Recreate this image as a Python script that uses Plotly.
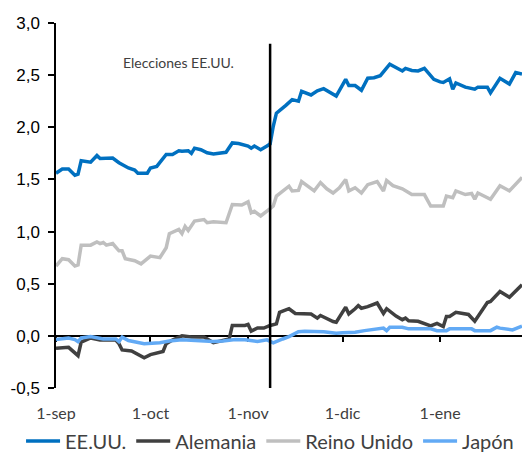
import plotly.graph_objects as go

# Rentabilidad de bonos soberanos a 10 años (%), sep-2016 a ene-2017
fechas_eeuu = [
    "2016-09-01", "2016-09-03", "2016-09-05", "2016-09-07", "2016-09-08", "2016-09-09",
    "2016-09-12", "2016-09-14", "2016-09-15", "2016-09-19", "2016-09-21", "2016-09-24",
    "2016-09-26", "2016-09-27", "2016-09-30", "2016-10-01", "2016-10-03", "2016-10-05",
    "2016-10-06", "2016-10-08", "2016-10-10", "2016-10-11", "2016-10-13", "2016-10-14",
    "2016-10-15", "2016-10-17", "2016-10-19", "2016-10-21", "2016-10-25", "2016-10-27",
    "2016-10-29", "2016-11-01", "2016-11-02", "2016-11-03", "2016-11-05", "2016-11-07",
    "2016-11-08", "2016-11-09", "2016-11-10", "2016-11-13", "2016-11-15", "2016-11-17",
    "2016-11-18", "2016-11-21", "2016-11-23", "2016-11-25", "2016-11-29", "2016-12-02",
    "2016-12-03", "2016-12-05", "2016-12-07", "2016-12-09", "2016-12-11", "2016-12-13",
    "2016-12-16", "2016-12-20", "2016-12-21", "2016-12-23", "2016-12-25", "2016-12-27",
    "2016-12-30", "2017-01-01", "2017-01-02", "2017-01-04", "2017-01-05", "2017-01-06",
    "2017-01-09", "2017-01-12", "2017-01-13", "2017-01-16", "2017-01-17", "2017-01-20",
    "2017-01-23", "2017-01-25", "2017-01-27",
]
eeuu = [
    1.56, 1.60, 1.60, 1.54, 1.55, 1.68,
    1.665, 1.73, 1.70, 1.705, 1.66, 1.61,
    1.59, 1.56, 1.56, 1.61, 1.625, 1.705,
    1.74, 1.74, 1.775, 1.77, 1.775, 1.75,
    1.80, 1.785, 1.755, 1.745, 1.76, 1.85,
    1.845, 1.82, 1.80, 1.82, 1.785, 1.82,
    1.84, 2.01, 2.135, 2.21, 2.265, 2.25,
    2.345, 2.31, 2.35, 2.37, 2.30, 2.46,
    2.40, 2.40, 2.355, 2.47, 2.475, 2.495,
    2.605, 2.54, 2.565, 2.545, 2.54, 2.565,
    2.46, 2.435, 2.43, 2.465, 2.365, 2.425,
    2.385, 2.365, 2.385, 2.385, 2.33, 2.47,
    2.415, 2.525, 2.51,
]

fechas_alemania = [
    "2016-09-01", "2016-09-05", "2016-09-08", "2016-09-09", "2016-09-12", "2016-09-15",
    "2016-09-20", "2016-09-21", "2016-09-22", "2016-09-25", "2016-09-29", "2016-10-01",
    "2016-10-05", "2016-10-06", "2016-10-08", "2016-10-11", "2016-10-14", "2016-10-18",
    "2016-10-21", "2016-10-24", "2016-10-26", "2016-10-27", "2016-10-31", "2016-11-01",
    "2016-11-02", "2016-11-04", "2016-11-06", "2016-11-08", "2016-11-10", "2016-11-11",
    "2016-11-14", "2016-11-16", "2016-11-18", "2016-11-21", "2016-11-23", "2016-11-24",
    "2016-11-28", "2016-11-29", "2016-12-02", "2016-12-03", "2016-12-05", "2016-12-06",
    "2016-12-07", "2016-12-09", "2016-12-12", "2016-12-14", "2016-12-15", "2016-12-18",
    "2016-12-20", "2016-12-21", "2016-12-22", "2016-12-25", "2016-12-29", "2016-12-31",
    "2017-01-02", "2017-01-03", "2017-01-04", "2017-01-06", "2017-01-10", "2017-01-12",
    "2017-01-16", "2017-01-17", "2017-01-20", "2017-01-23", "2017-01-27",
]
alemania = [
    -0.12, -0.11, -0.19, -0.06, -0.02, -0.04,
    -0.04, -0.075, -0.135, -0.145, -0.21, -0.18,
    -0.15, -0.075, -0.04, 0.00, -0.01, -0.01,
    -0.065, -0.045, -0.03, 0.10, 0.10, 0.11,
    0.045, 0.075, 0.075, 0.10, 0.115, 0.225,
    0.26, 0.215, 0.215, 0.21, 0.17, 0.195,
    0.137, 0.13, 0.275, 0.21, 0.26, 0.29,
    0.265, 0.28, 0.315, 0.215, 0.26, 0.19,
    0.155, 0.17, 0.145, 0.14, 0.095, 0.12,
    0.09, 0.185, 0.185, 0.225, 0.205, 0.14,
    0.32, 0.33, 0.425, 0.37, 0.49,
]

fechas_reino_unido = [
    "2016-09-01", "2016-09-03", "2016-09-05", "2016-09-07", "2016-09-08", "2016-09-09",
    "2016-09-12", "2016-09-14", "2016-09-15", "2016-09-16", "2016-09-17", "2016-09-19",
    "2016-09-21", "2016-09-22", "2016-09-23", "2016-09-26", "2016-09-28", "2016-10-01",
    "2016-10-04", "2016-10-06", "2016-10-07", "2016-10-10", "2016-10-11", "2016-10-12",
    "2016-10-13", "2016-10-15", "2016-10-18", "2016-10-19", "2016-10-21", "2016-10-25",
    "2016-10-27", "2016-10-30", "2016-11-01", "2016-11-02", "2016-11-03", "2016-11-05",
    "2016-11-08", "2016-11-09", "2016-11-10", "2016-11-14", "2016-11-15", "2016-11-17",
    "2016-11-18", "2016-11-20", "2016-11-22", "2016-11-24", "2016-11-26", "2016-11-28",
    "2016-11-30", "2016-12-02", "2016-12-03", "2016-12-05", "2016-12-07", "2016-12-09",
    "2016-12-12", "2016-12-14", "2016-12-15", "2016-12-17", "2016-12-20", "2016-12-23",
    "2016-12-27", "2016-12-29", "2017-01-02", "2017-01-03", "2017-01-05", "2017-01-06",
    "2017-01-09", "2017-01-11", "2017-01-12", "2017-01-13", "2017-01-17", "2017-01-20",
    "2017-01-23", "2017-01-27",
]
reino_unido = [
    0.67, 0.74, 0.73, 0.67, 0.68, 0.87,
    0.87, 0.90, 0.885, 0.895, 0.87, 0.885,
    0.815, 0.815, 0.74, 0.72, 0.69, 0.765,
    0.75, 0.845, 0.98, 1.02, 0.98, 1.05,
    1.01, 1.10, 1.115, 1.085, 1.095, 1.085,
    1.26, 1.255, 1.285, 1.18, 1.195, 1.15,
    1.22, 1.245, 1.34, 1.435, 1.39, 1.395,
    1.48, 1.44, 1.39, 1.47, 1.41, 1.37,
    1.42, 1.50, 1.39, 1.42, 1.37, 1.45,
    1.48, 1.39, 1.49, 1.44, 1.41, 1.355,
    1.355, 1.245, 1.245, 1.34, 1.325, 1.39,
    1.355, 1.365, 1.31, 1.37, 1.31, 1.44,
    1.39, 1.52,
]

fechas_japon = [
    "2016-09-01", "2016-09-05", "2016-09-07", "2016-09-08", "2016-09-09", "2016-09-12",
    "2016-09-16", "2016-09-20", "2016-09-21", "2016-09-22", "2016-09-24", "2016-09-29",
    "2016-10-04", "2016-10-07", "2016-10-11", "2016-10-15", "2016-10-19", "2016-10-21",
    "2016-10-24", "2016-10-28", "2016-10-31", "2016-11-04", "2016-11-07", "2016-11-09",
    "2016-11-12", "2016-11-14", "2016-11-17", "2016-11-19", "2016-11-25", "2016-11-29",
    "2016-12-01", "2016-12-05", "2016-12-08", "2016-12-11", "2016-12-14", "2016-12-15",
    "2016-12-16", "2016-12-20", "2016-12-22", "2016-12-29", "2016-12-31", "2017-01-03",
    "2017-01-04", "2017-01-11", "2017-01-12", "2017-01-17", "2017-01-19", "2017-01-20",
    "2017-01-23", "2017-01-24", "2017-01-27",
]
japon = [
    -0.035, -0.02, -0.035, -0.055, -0.02, -0.007,
    -0.03, -0.03, -0.055, -0.012, -0.045, -0.075,
    -0.067, -0.05, -0.038, -0.045, -0.045, -0.054,
    -0.05, -0.035, -0.038, -0.054, -0.038, -0.067,
    -0.03, -0.007, 0.04, 0.045, 0.04, 0.026,
    0.03, 0.035, 0.05, 0.06, 0.075, 0.05,
    0.083, 0.083, 0.067, 0.067, 0.05, 0.05,
    0.067, 0.067, 0.05, 0.05, 0.083, 0.074,
    0.067, 0.057, 0.093,
]

meses_fechas = ["2016-09-01", "2016-10-01", "2016-11-01", "2016-12-01", "2017-01-01"]
meses_texto = ["1-sep", "1-oct", "1-nov", "1-dic", "1-ene"]
y_valores = [-0.5, 0.0, 0.5, 1.0, 1.5, 2.0, 2.5, 3.0]
y_texto = ["-0,5", "0,0", "0,5", "1,0", "1,5", "2,0", "2,5", "3,0"]

fecha_eleccion = "2016-11-08"
tope_eleccion = 2.8
texto_eleccion = "Elecciones EE.UU."
fecha_texto, nivel_texto = "2016-10-10", 2.62

rango_x = ["2016-09-01", "2017-01-27"]
rango_y = [-0.5, 3.0]

series = [
    ("EE.UU.", fechas_eeuu, eeuu, "#0070C0"),
    ("Alemania", fechas_alemania, alemania, "#404040"),
    ("Reino Unido", fechas_reino_unido, reino_unido, "#BFBFBF"),
    ("Japón", fechas_japon, japon, "#62AAF5"),
]

fig = go.Figure()
for nombre, fx, fy, color in series:
    fig.add_trace(go.Scatter(
        x=fx, y=fy, name=nombre, mode="lines",
        line=dict(color=color, width=3.5),
    ))

# eje auxiliar que dibuja la línea del cero con sus marcas de mes
fig.add_trace(go.Scatter(x=[], y=[], xaxis="x2", yaxis="y",
                         showlegend=False, hoverinfo="skip"))

fig.add_shape(type="line", xref="x", yref="y",
              x0=fecha_eleccion, x1=fecha_eleccion,
              y0=rango_y[0], y1=tope_eleccion,
              line=dict(color="black", width=2.5))

fig.add_annotation(x=fecha_texto, y=nivel_texto, text=texto_eleccion,
                   showarrow=False, xanchor="center", yanchor="middle",
                   font=dict(family="Lato", size=14, color="#404040"))

cero_pos = (0 - rango_y[0]) / (rango_y[1] - rango_y[0])

fig.update_layout(
    width=530, height=454,
    margin=dict(l=56, r=8, t=23, b=66, autoexpand=False),
    paper_bgcolor="white", plot_bgcolor="white",
    showlegend=True,
    legend=dict(
        orientation="h", x=-0.075, xanchor="left", y=-0.145, yanchor="middle",
        font=dict(family="Lato", size=20, color="#404040"),
        itemwidth=34, tracegroupgap=0,
    ),
    xaxis=dict(
        type="date", range=rango_x,
        tickvals=meses_fechas, ticktext=meses_texto,
        showgrid=False, zeroline=False, showline=False,
        ticks="", ticklabelstandoff=14,
        tickfont=dict(family="Lato", size=16, color="#404040"),
    ),
    xaxis2=dict(
        type="date", range=rango_x, overlaying="x", anchor="free",
        position=cero_pos, matches="x",
        tickvals=meses_fechas, showticklabels=False,
        showgrid=False, zeroline=False,
        showline=True, linecolor="black", linewidth=1.5,
        ticks="outside", ticklen=5, tickwidth=1.5, tickcolor="black",
        layer="below traces",
    ),
    yaxis=dict(
        range=rango_y, tickvals=y_valores, ticktext=y_texto,
        showgrid=False, zeroline=False,
        showline=True, linecolor="black", linewidth=1.5,
        ticks="outside", ticklen=6, tickwidth=1.5, tickcolor="black",
        ticklabelstandoff=5,
        tickfont=dict(family="Liberation Sans", size=17, color="black"),
    ),
)

fig.write_html("out.html")
